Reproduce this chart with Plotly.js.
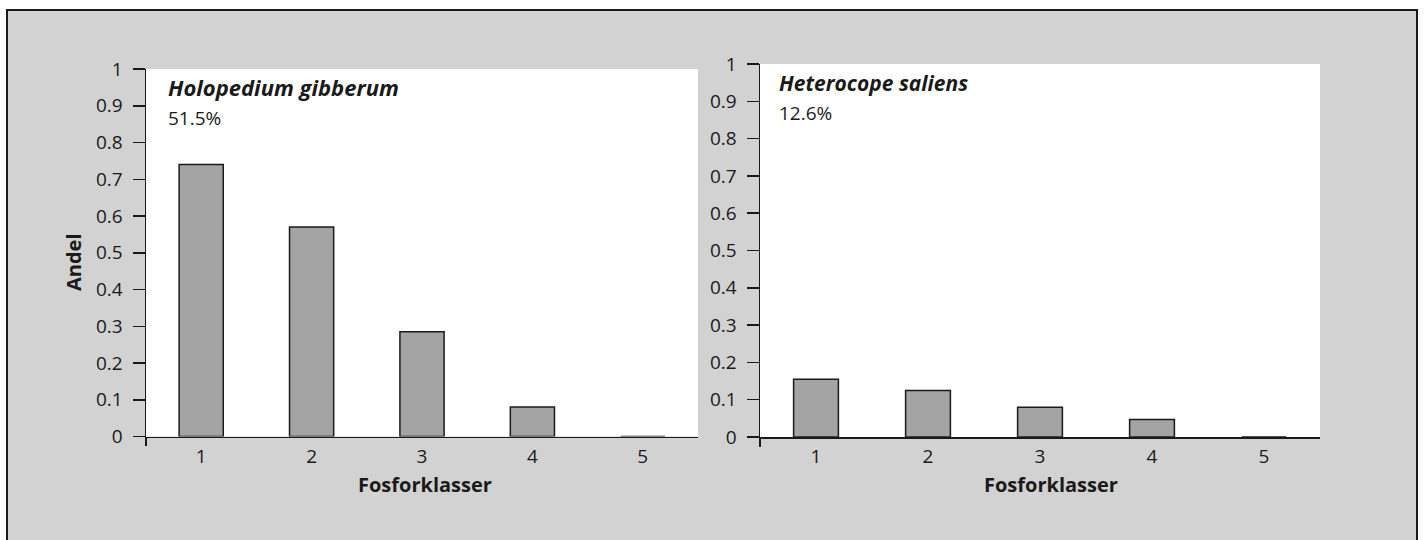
<!DOCTYPE html>
<html>
<head>
<meta charset="utf-8">
<script src="https://cdn.plot.ly/plotly-3.0.1.min.js"></script>
<style>html,body{margin:0;padding:0;background:#fff}#chart{width:1427px;height:540px}</style>
</head>
<body>
<div id="chart"></div>
<script>
// ---- data ----
var categories = [1, 2, 3, 4, 5];
var holopediumValues = [0.74, 0.57, 0.285, 0.08, 0];
var heterocopeValues = [0.155, 0.125, 0.08, 0.047, 0];
var leftTitle = 'Holopedium gibberum';
var leftShare = '51.5%';
var rightTitle = 'Heterocope saliens';
var rightShare = '12.6%';
var xAxisTitle = 'Fosforklasser';
var yAxisTitle = 'Andel';

// ---- style ----
var W = 1427, H = 540;
var FONT = '"Open Sans", "Noto Sans", sans-serif';
var BG = '#d2d2d2';
var BAR = '#a4a4a4';
var INK = '#1a1a1a';
function px(x) { return x / W; }
function py(y) { return 1 - y / H; }

var barStyle = { color: BAR, line: { color: INK, width: 1.5 } };

var traces = [
  { type: 'bar', x: categories, y: holopediumValues, xaxis: 'x', yaxis: 'y',
    width: 0.4, marker: barStyle, hoverinfo: 'x+y' },
  { type: 'bar', x: categories, y: heterocopeValues, xaxis: 'x2', yaxis: 'y2',
    width: 0.4, marker: barStyle, hoverinfo: 'x+y' }
];

function xAx(domain, anchor) {
  return {
    domain: domain, anchor: anchor, range: [0.5, 5.5],
    tickvals: categories, ticktext: categories.map(String),
    ticks: '', showgrid: false, zeroline: false,
    showline: true, linecolor: INK, linewidth: 1.5,
    tickfont: { family: FONT, size: 19, color: INK },
    ticklabelstandoff: 2,
    minor: { tickvals: [0.5], ticks: 'outside', ticklen: 8, tickcolor: INK, tickwidth: 1.5, showgrid: false },
    fixedrange: true
  };
}
function yAx(domain, anchor) {
  return {
    domain: domain, anchor: anchor, range: [0, 1],
    dtick: 0.1, tick0: 0,
    ticks: 'outside', ticklen: 12, tickcolor: INK, tickwidth: 1.5,
    showgrid: false, zeroline: false,
    showline: true, linecolor: INK, linewidth: 1.5,
    tickfont: { family: FONT, size: 19, color: INK },
    ticklabelstandoff: 6,
    fixedrange: true
  };
}

var layout = {
  width: W, height: H,
  margin: { l: 0, r: 0, t: 0, b: 0 },
  paper_bgcolor: BG, plot_bgcolor: '#ffffff',
  showlegend: false,
  xaxis: xAx([px(146), px(698)], 'y'),
  yaxis: yAx([py(436.5), py(69)], 'x'),
  xaxis2: xAx([px(760), px(1320)], 'y2'),
  yaxis2: yAx([py(437), py(64)], 'x2'),
  shapes: [
    { type: 'rect', xref: 'paper', yref: 'paper', x0: 0, x1: 1, y0: py(10), y1: 1, fillcolor: '#fff', line: { width: 0 }, layer: 'below' },
    { type: 'rect', xref: 'paper', yref: 'paper', x0: 0, x1: px(7), y0: 0, y1: 1, fillcolor: '#fff', line: { width: 0 }, layer: 'below' },
    { type: 'rect', xref: 'paper', yref: 'paper', x0: px(1417), x1: 1, y0: 0, y1: 1, fillcolor: '#fff', line: { width: 0 }, layer: 'below' },
    { type: 'rect', xref: 'paper', yref: 'paper', x0: px(7), x1: px(1417), y0: py(560), y1: py(10), fillcolor: 'rgba(0,0,0,0)', line: { color: INK, width: 2 } }
  ],
  annotations: [
    { xref: 'paper', yref: 'paper', x: px(166), y: py(87), xanchor: 'left', yanchor: 'middle', showarrow: false,
      text: '<b><i>' + leftTitle + '</i></b>', font: { family: FONT, size: 22, color: INK } },
    { xref: 'paper', yref: 'paper', x: px(166), y: py(118), xanchor: 'left', yanchor: 'middle', showarrow: false,
      text: leftShare, font: { family: FONT, size: 19, color: INK } },
    { xref: 'paper', yref: 'paper', x: px(777), y: py(83), xanchor: 'left', yanchor: 'middle', showarrow: false,
      text: '<b><i>' + rightTitle + '</i></b>', font: { family: FONT, size: 21, color: INK } },
    { xref: 'paper', yref: 'paper', x: px(777), y: py(113), xanchor: 'left', yanchor: 'middle', showarrow: false,
      text: rightShare, font: { family: FONT, size: 19, color: INK } },
    { xref: 'paper', yref: 'paper', x: px(425), y: py(484), xanchor: 'center', yanchor: 'middle', showarrow: false,
      text: '<b>' + xAxisTitle + '</b>', font: { family: FONT, size: 20, color: INK } },
    { xref: 'paper', yref: 'paper', x: px(1051), y: py(484), xanchor: 'center', yanchor: 'middle', showarrow: false,
      text: '<b>' + xAxisTitle + '</b>', font: { family: FONT, size: 20, color: INK } },
    { xref: 'paper', yref: 'paper', x: px(73), y: py(262), xanchor: 'center', yanchor: 'middle', showarrow: false, textangle: -90,
      text: '<b>' + yAxisTitle + '</b>', font: { family: FONT, size: 20, color: INK } }
  ]
};

Plotly.newPlot('chart', traces, layout, { staticPlot: true, displayModeBar: false });
</script>
</body>
</html>
